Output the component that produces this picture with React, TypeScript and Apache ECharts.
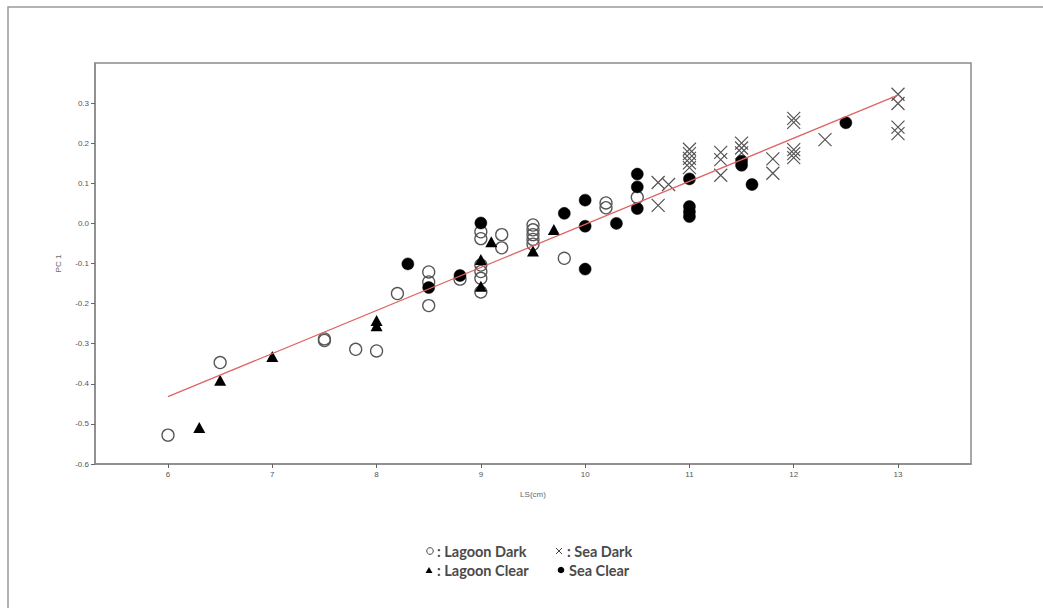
import React, { useEffect, useRef } from "react";
import * as echarts from "echarts";

// Data (LS in cm vs PC 1)
const lagoonDark: number[][] = [
  [6.0, -0.528], [6.5, -0.347], [7.5, -0.288], [7.5, -0.292], [7.8, -0.314],
  [8.0, -0.318], [8.2, -0.175], [8.5, -0.121], [8.5, -0.146], [8.5, -0.205],
  [8.8, -0.139], [9.0, -0.021], [9.0, -0.038], [9.0, -0.104], [9.0, -0.120],
  [9.0, -0.137], [9.0, -0.171], [9.2, -0.028], [9.2, -0.061], [9.5, -0.004],
  [9.5, -0.016], [9.5, -0.028], [9.5, -0.040], [9.5, -0.052], [9.8, -0.087],
  [10.2, 0.051], [10.2, 0.039], [10.5, 0.065],
];
const lagoonClear: number[][] = [
  [6.3, -0.509], [6.5, -0.391], [7.0, -0.332], [8.0, -0.242], [8.0, -0.255],
  [9.0, -0.090], [9.0, -0.157], [9.1, -0.046], [9.5, -0.069], [9.7, -0.015],
];
const seaDark: number[][] = [
  [10.7, 0.102], [10.8, 0.097], [10.7, 0.045], [11.0, 0.185], [11.0, 0.174],
  [11.0, 0.162], [11.0, 0.151], [11.0, 0.139], [11.3, 0.177], [11.3, 0.159],
  [11.3, 0.120], [11.5, 0.200], [11.5, 0.188], [11.5, 0.176], [11.8, 0.161],
  [11.8, 0.125], [12.0, 0.262], [12.0, 0.252], [12.0, 0.184], [12.0, 0.174],
  [12.0, 0.164], [12.3, 0.209], [13.0, 0.322], [13.0, 0.299], [13.0, 0.240],
  [13.0, 0.224],
];
const seaClear: number[][] = [
  [8.3, -0.101], [8.5, -0.160], [8.8, -0.130], [9.0, 0.001], [9.8, 0.025],
  [10.0, 0.058], [10.0, -0.007], [10.0, -0.114], [10.3, 0.0], [10.5, 0.123],
  [10.5, 0.091], [10.5, 0.037], [11.0, 0.111], [11.0, 0.042], [11.0, 0.029],
  [11.0, 0.017], [11.5, 0.155], [11.5, 0.145], [11.6, 0.097], [12.5, 0.251],
];
const fitLine: number[][] = [[6.0, -0.432], [13.0, 0.32]];

const xTicks = [6, 7, 8, 9, 10, 11, 12, 13];
const yTicks = [-0.6, -0.5, -0.4, -0.3, -0.2, -0.1, 0.0, 0.1, 0.2, 0.3];

const legendLabels = [": Lagoon Dark", ": Sea Dark", ": Lagoon Clear", "Sea Clear"];

export default function App() {
  const ref = useRef<HTMLDivElement>(null);
  useEffect(() => {
    if (!ref.current) return;
    const chart = echarts.init(ref.current, null, { renderer: "svg" });
    const ink = "#555";
    const legendFont = { fontFamily: "Lato", fontSize: 14.5, fontWeight: "bold", fill: "#4a4a4a" };
    const option: any = {
      animation: false,
      backgroundColor: "#fff",
      grid: {
        left: 95, right: 72, top: 63, bottom: 144,
        show: true, borderColor: "#8a8a8a", borderWidth: 1.5, backgroundColor: "#fff",
      },
      xAxis: {
        type: "value", min: 5.3, max: 13.7,
        name: "LS(cm)", nameLocation: "middle", nameGap: 26,
        nameTextStyle: { fontSize: 8, color: "#666", fontFamily: "Liberation Sans" },
        axisLine: { show: true, onZero: false, lineStyle: { color: "#8a8a8a", width: 1.5 } },
        axisTick: { show: true, length: 4, customValues: xTicks, lineStyle: { color: "#666" } },
        axisLabel: {
          customValues: xTicks, fontSize: 8, color: "#555", margin: 6,
          fontFamily: "Liberation Sans",
          formatter: (v: number) => String(Math.round(v)),
        },
        splitLine: { show: false },
      },
      yAxis: {
        type: "value", min: -0.6, max: 0.4,
        name: "PC 1", nameLocation: "middle", nameGap: 33, nameRotate: 90,
        nameTextStyle: { fontSize: 8, color: "#666", fontFamily: "Liberation Sans" },
        axisLine: { show: true, onZero: false, lineStyle: { color: "#8a8a8a", width: 1.5 } },
        axisTick: { show: true, length: 4, customValues: yTicks, lineStyle: { color: "#666" } },
        axisLabel: {
          customValues: yTicks, fontSize: 8, color: "#555", margin: 6,
          fontFamily: "Liberation Sans",
          formatter: (v: number) => (Math.abs(v) < 1e-9 ? "0.0" : v.toFixed(1)),
        },
        splitLine: { show: false },
      },
      series: [
        {
          name: "Lagoon Dark", type: "scatter", data: lagoonDark, symbol: "circle", symbolSize: 12,
          itemStyle: { color: "rgba(255,255,255,0)", borderColor: ink, borderWidth: 1.3, opacity: 1 },
        },
        {
          name: "Sea Dark", type: "scatter", data: seaDark,
          symbol: "path://M0,0L10,10M10,0L0,10", symbolSize: 13,
          itemStyle: { color: "none", borderColor: ink, borderWidth: 1.2, opacity: 1 },
        },
        {
          name: "Sea Clear", type: "scatter", data: seaClear, symbol: "circle", symbolSize: 12,
          itemStyle: { color: "#000", borderColor: "#000", borderWidth: 0.5, opacity: 1 },
        },
        {
          name: "Lagoon Clear", type: "scatter", data: lagoonClear, symbol: "triangle", symbolSize: [12, 11],
          itemStyle: { color: "#000", opacity: 1 },
        },
        {
          name: "Fit", type: "line", data: fitLine, symbol: "none",
          lineStyle: { color: "#df6363", width: 1.3 }, z: 5,
        },
      ],
      graphic: [
        {
          type: "rect", silent: true,
          shape: { x: 8, y: 7, width: 1200, height: 800 },
          style: { fill: "none", stroke: "#9a9a9a", lineWidth: 1.5 },
        },
        // legend row 1
        { type: "circle", shape: { cx: 430, cy: 551, r: 3.3 }, style: { fill: "none", stroke: "#444", lineWidth: 1 } },
        { type: "text", x: 437, y: 551, style: { ...legendFont, text: legendLabels[0], verticalAlign: "middle" } },
        { type: "line", shape: { x1: 556, y1: 548, x2: 562, y2: 554 }, style: { stroke: "#444", lineWidth: 1 } },
        { type: "line", shape: { x1: 556, y1: 554, x2: 562, y2: 548 }, style: { stroke: "#444", lineWidth: 1 } },
        { type: "text", x: 567, y: 551, style: { ...legendFont, text: legendLabels[1], verticalAlign: "middle" } },
        // legend row 2
        { type: "polygon", shape: { points: [[429, 567], [425.5, 573], [432.5, 573]] }, style: { fill: "#000" } },
        { type: "text", x: 437, y: 570, style: { ...legendFont, text: legendLabels[2], verticalAlign: "middle" } },
        { type: "circle", shape: { cx: 561, cy: 570, r: 3.3 }, style: { fill: "#000" } },
        { type: "text", x: 569, y: 570, style: { ...legendFont, text: legendLabels[3], verticalAlign: "middle" } },
      ],
    };
    chart.setOption(option);
    return () => chart.dispose();
  }, []);
  return (
    <div
      ref={ref}
      style={{ position: "fixed", left: 0, top: 0, width: 1043, height: 608, background: "#fff" }}
    />
  );
}
